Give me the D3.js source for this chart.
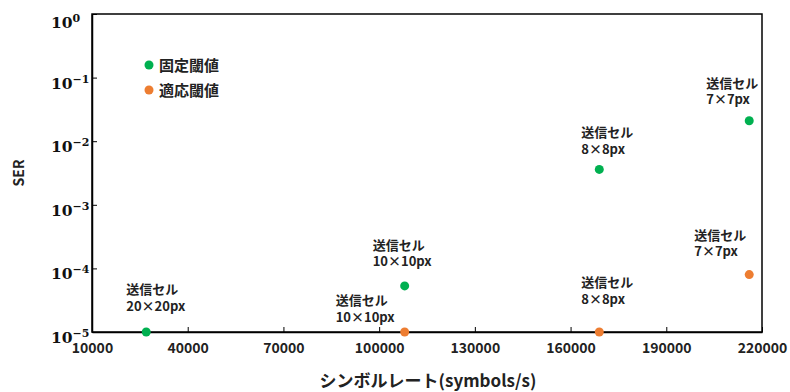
<!DOCTYPE html>
<html>
<head>
<meta charset="utf-8">
<script src="https://cdn.jsdelivr.net/npm/d3@7"></script>
<style>
  body { margin: 0; background: #fff; }
  svg { display: block; }
</style>
</head>
<body>
<svg id="chart" width="790" height="392"></svg>
<script>
// Symbol rate (symbols/s) vs. symbol error rate for each transmit cell size
const seriesNames = ["固定閾値", "適応閾値"];
const seriesColors = ["#00b050", "#ed7d31"];
const cellLabels = ["20×20px", "10×10px", "8×8px", "7×7px"];
const fixedRate = [27000, 108000, 169000, 216000];
const fixedSER = [1e-5, 5.3e-5, 3.6e-3, 2.1e-2];
const adaptiveRate = [108000, 169000, 216000];
const adaptiveSER = [1e-5, 1e-5, 8e-5];
const adaptiveCells = ["10×10px", "8×8px", "7×7px"];
const xTicks = [10000, 40000, 70000, 100000, 130000, 160000, 190000, 220000];
const yExponents = [0, -1, -2, -3, -4, -5];

const SANS = "'Noto Sans CJK JP', 'Noto Sans', sans-serif";
const svg = d3.select("#chart");
const margin = { left: 92, right: 28, top: 14, bottom: 60 };
const W = 790, H = 392;

const x = d3.scaleLinear().domain([10000, 220000]).range([margin.left, W - margin.right]);
const y = d3.scaleLog().domain([1e-5, 1]).range([H - margin.bottom, margin.top]);

// frame
svg.append("rect")
  .attr("x", x.range()[0]).attr("y", y.range()[1])
  .attr("width", x.range()[1] - x.range()[0])
  .attr("height", y.range()[0] - y.range()[1])
  .attr("fill", "none").attr("stroke", "#000").attr("stroke-width", 1.5);

// x axis (ticks pointing inward)
const xAxis = svg.append("g")
  .attr("transform", `translate(0,${y.range()[0]})`)
  .call(d3.axisBottom(x).tickValues(xTicks).tickSizeInner(-5).tickSizeOuter(0).tickPadding(11).tickFormat(d3.format("d")));
xAxis.select(".domain").attr("stroke-width", 1.5);
xAxis.selectAll("text")
  .style("font-family", SANS).style("font-size", "14px").style("font-weight", "bold")
  .attr("fill", "#222");

// y axis (log, decade ticks pointing inward)
const yAxis = svg.append("g")
  .attr("transform", `translate(${x.range()[0]},0)`)
  .call(d3.axisLeft(y).tickValues(yExponents.map(e => Math.pow(10, e))).tickSizeInner(-5).tickSizeOuter(0).tickFormat(""));
yAxis.select(".domain").attr("stroke-width", 1.5);

const yLab = svg.append("g");
yExponents.forEach(e => {
  const t = yLab.append("text")
    .attr("x", 51)
    .attr("y", y(Math.pow(10, e)) + (e === 0 ? 14 : 11))
    .style("font-family", "'DejaVu Serif', serif")
    .style("font-weight", "bold")
    .style("font-size", "15.5px")
    .attr("fill", "#111");
  t.append("tspan").text("10");
  t.append("tspan").attr("dy", -6).style("font-size", "11px").text(e === 0 ? "0" : "\u2212" + Math.abs(e));
});

// axis titles
svg.append("text")
  .attr("x", 428)
  .attr("y", 387)
  .attr("text-anchor", "middle")
  .style("font-family", SANS).style("font-size", "17px").style("font-weight", "bold")
  .attr("fill", "#222")
  .text("シンボルレート(symbols/s)");

svg.append("text")
  .attr("transform", `translate(18,${(y.range()[0] + y.range()[1]) / 2}) rotate(-90)`)
  .attr("text-anchor", "middle")
  .attr("dominant-baseline", "central")
  .style("font-family", SANS).style("font-size", "14px").style("font-weight", "bold")
  .attr("fill", "#222")
  .text("SER");

// points
const fixedPts = fixedRate.map((r, i) => ({ r, s: fixedSER[i], cell: cellLabels[i], c: 0 }));
const adaptivePts = adaptiveRate.map((r, i) => ({ r, s: adaptiveSER[i], cell: adaptiveCells[i], c: 1 }));

// label offsets (pixels from each marker to the label's first line)
const fixedOffsets = [[-20, -43], [-32, -41], [-18, -37], [-43, -38]];
const adaptiveOffsets = [[-69, -32], [-18, -50], [-55, -40]];

function drawSeries(pts, offsets) {
  const g = svg.append("g");
  g.selectAll("circle").data(pts).join("circle")
    .attr("cx", d => x(d.r)).attr("cy", d => y(d.s)).attr("r", 4.5)
    .attr("fill", d => seriesColors[d.c]);
  pts.forEach((d, i) => {
    const [dx, dy] = offsets[i];
    ["送信セル", d.cell].forEach((line, k) => {
      g.append("text")
        .attr("x", x(d.r) + dx).attr("y", y(d.s) + dy + 5 + k * 16.5)
        .style("font-family", SANS).style("font-size", "13px").style("font-weight", "bold")
        .attr("fill", "#222").text(line);
    });
  });
}
drawSeries(fixedPts, fixedOffsets);
drawSeries(adaptivePts, adaptiveOffsets);

// legend
const legend = svg.append("g").attr("transform", "translate(149,65)");
seriesNames.forEach((n, i) => {
  legend.append("circle").attr("cx", 0).attr("cy", i * 25).attr("r", 4.5).attr("fill", seriesColors[i]);
  legend.append("text").attr("x", 10).attr("y", i * 25 + 5.5)
    .style("font-family", SANS).style("font-size", "15px").style("font-weight", "bold")
    .attr("fill", "#222").text(n);
});
</script>
</body>
</html>
